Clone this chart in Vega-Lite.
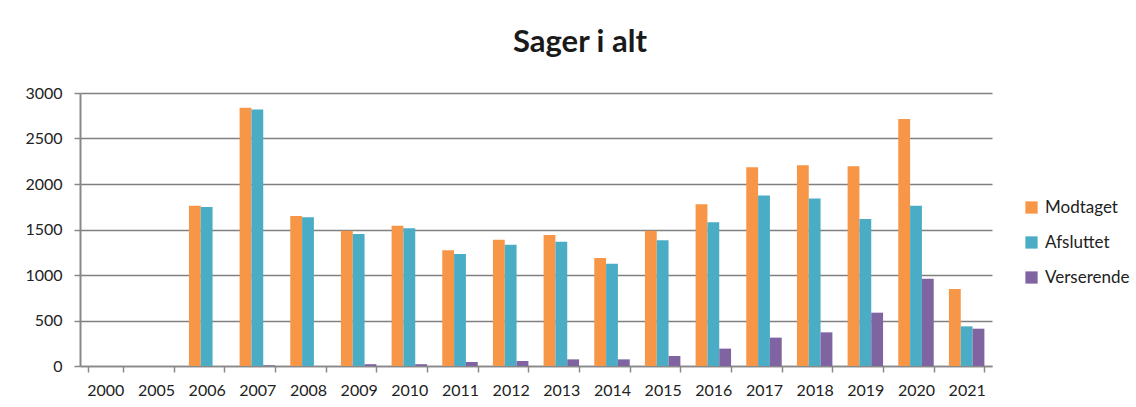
{
  "$schema": "https://vega.github.io/schema/vega-lite/v6.json",
  "width": 912,
  "height": 273,
  "autosize": {"type": "none"},
  "padding": {"left": 80, "top": 93, "right": 144, "bottom": 41},
  "background": "white",
  "title": {
    "text": "Sager i alt",
    "font": "Lato",
    "fontSize": 31,
    "fontWeight": "bold",
    "color": "#1a1a1a",
    "anchor": "middle",
    "dx": 44,
    "offset": 26
  },
  "config": {
    "view": {"stroke": null},
    "font": "Lato"
  },
  "data": {
    "values": [
      {"year": "2000", "serie": "Modtaget", "value": 0},
      {"year": "2000", "serie": "Afsluttet", "value": 0},
      {"year": "2000", "serie": "Verserende", "value": 0},
      {"year": "2005", "serie": "Modtaget", "value": 0},
      {"year": "2005", "serie": "Afsluttet", "value": 0},
      {"year": "2005", "serie": "Verserende", "value": 0},
      {"year": "2006", "serie": "Modtaget", "value": 1760},
      {"year": "2006", "serie": "Afsluttet", "value": 1748},
      {"year": "2006", "serie": "Verserende", "value": 0},
      {"year": "2007", "serie": "Modtaget", "value": 2838},
      {"year": "2007", "serie": "Afsluttet", "value": 2818},
      {"year": "2007", "serie": "Verserende", "value": 8},
      {"year": "2008", "serie": "Modtaget", "value": 1648},
      {"year": "2008", "serie": "Afsluttet", "value": 1634},
      {"year": "2008", "serie": "Verserende", "value": 0},
      {"year": "2009", "serie": "Modtaget", "value": 1487},
      {"year": "2009", "serie": "Afsluttet", "value": 1451},
      {"year": "2009", "serie": "Verserende", "value": 20},
      {"year": "2010", "serie": "Modtaget", "value": 1542},
      {"year": "2010", "serie": "Afsluttet", "value": 1513},
      {"year": "2010", "serie": "Verserende", "value": 20},
      {"year": "2011", "serie": "Modtaget", "value": 1271},
      {"year": "2011", "serie": "Afsluttet", "value": 1231},
      {"year": "2011", "serie": "Verserende", "value": 44},
      {"year": "2012", "serie": "Modtaget", "value": 1388},
      {"year": "2012", "serie": "Afsluttet", "value": 1333},
      {"year": "2012", "serie": "Verserende", "value": 55},
      {"year": "2013", "serie": "Modtaget", "value": 1440},
      {"year": "2013", "serie": "Afsluttet", "value": 1366},
      {"year": "2013", "serie": "Verserende", "value": 73},
      {"year": "2014", "serie": "Modtaget", "value": 1187},
      {"year": "2014", "serie": "Afsluttet", "value": 1125},
      {"year": "2014", "serie": "Verserende", "value": 73},
      {"year": "2015", "serie": "Modtaget", "value": 1487},
      {"year": "2015", "serie": "Afsluttet", "value": 1381},
      {"year": "2015", "serie": "Verserende", "value": 110},
      {"year": "2016", "serie": "Modtaget", "value": 1777},
      {"year": "2016", "serie": "Afsluttet", "value": 1579},
      {"year": "2016", "serie": "Verserende", "value": 191},
      {"year": "2017", "serie": "Modtaget", "value": 2184},
      {"year": "2017", "serie": "Afsluttet", "value": 1875},
      {"year": "2017", "serie": "Verserende", "value": 312},
      {"year": "2018", "serie": "Modtaget", "value": 2206},
      {"year": "2018", "serie": "Afsluttet", "value": 1842},
      {"year": "2018", "serie": "Verserende", "value": 370},
      {"year": "2019", "serie": "Modtaget", "value": 2195},
      {"year": "2019", "serie": "Afsluttet", "value": 1615},
      {"year": "2019", "serie": "Verserende", "value": 586},
      {"year": "2020", "serie": "Modtaget", "value": 2714},
      {"year": "2020", "serie": "Afsluttet", "value": 1762},
      {"year": "2020", "serie": "Verserende", "value": 960},
      {"year": "2021", "serie": "Modtaget", "value": 846},
      {"year": "2021", "serie": "Afsluttet", "value": 436},
      {"year": "2021", "serie": "Verserende", "value": 410}
    ]
  },
  "mark": {"type": "bar"},
  "encoding": {
    "x": {
      "field": "year",
      "type": "nominal",
      "scale": {"paddingInner": 0.3, "paddingOuter": 0.15},
      "axis": {
        "title": null,
        "labelAngle": 0,
        "labelFont": "Lato",
        "labelFontSize": 16,
        "labelColor": "#222222",
        "labelPadding": 10,
        "tickBand": "extent",
        "tickSize": 6,
        "tickColor": "#888888",
        "tickWidth": 1.5,
        "domainColor": "#888888",
        "domainWidth": 1.5,
        "grid": false
      }
    },
    "xOffset": {"field": "serie", "type": "nominal", "sort": ["Modtaget", "Afsluttet", "Verserende"]},
    "y": {
      "field": "value",
      "type": "quantitative",
      "scale": {"domain": [0, 3000], "nice": false},
      "axis": {
        "title": null,
        "format": "d",
        "values": [0, 500, 1000, 1500, 2000, 2500, 3000],
        "labelFont": "Lato",
        "labelFontSize": 16,
        "labelColor": "#222222",
        "labelPadding": 12,
        "tickSize": 6,
        "tickColor": "#888888",
        "tickWidth": 1.5,
        "domainColor": "#888888",
        "domainWidth": 2,
        "gridColor": "#808080",
        "gridWidth": 1.4
      }
    },
    "color": {
      "field": "serie",
      "type": "nominal",
      "sort": ["Modtaget", "Afsluttet", "Verserende"],
      "scale": {"domain": ["Modtaget", "Afsluttet", "Verserende"], "range": ["#F79646", "#4BACC6", "#8064A2"]},
      "legend": {
        "title": null,
        "orient": "none",
        "legendX": 943,
        "legendY": 106,
        "symbolType": "square",
        "symbolSize": 150,
        "symbolStrokeWidth": 0,
        "symbolOpacity": 1,
        "labelFont": "Lato",
        "labelFontSize": 17,
        "labelColor": "#222222",
        "labelOffset": 5,
        "rowPadding": 17
      }
    }
  }
}
